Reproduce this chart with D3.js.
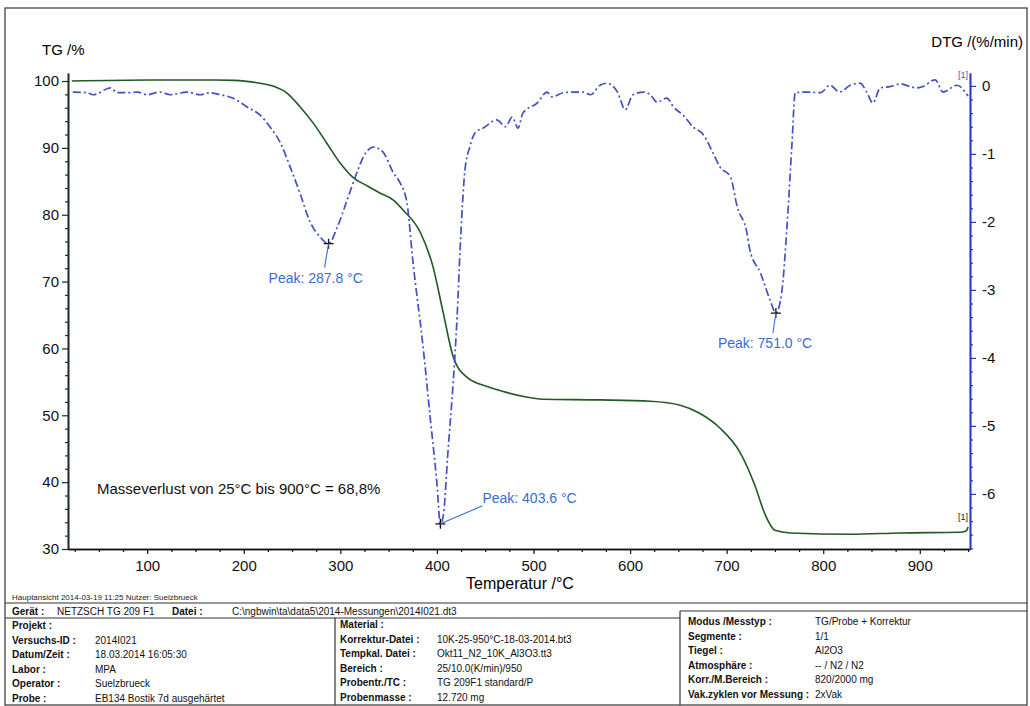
<!DOCTYPE html>
<html>
<head>
<meta charset="utf-8">
<script src="https://cdn.jsdelivr.net/npm/d3@7"></script>
<style>
  body { margin: 0; background: #fff; }
  svg { font-family: "Liberation Sans", Arial, sans-serif; }
</style>
</head>
<body>
<svg id="chart" width="1030" height="706"></svg>
<script>
// TG curve (mass %)
var tgTemp  = [22, 103, 170, 190, 203, 217, 231, 245, 258, 272, 286, 300, 313, 328, 341, 355, 365, 383, 396, 406, 417, 431, 452, 470, 490, 510, 569, 621, 652, 672, 693, 714, 729, 740, 750, 766, 828, 880, 941, 948, 950];
var tgValue = [100.0, 100.15, 100.15, 100.1, 99.95, 99.66, 99.2, 98.16, 96.2, 93.7, 90.7, 87.7, 85.6, 84.3, 83.25, 82.2, 80.7, 77.3, 72.2, 65.7, 58.7, 55.7, 54.3, 53.5, 52.8, 52.4, 52.3, 52.1, 51.5, 50.3, 48.1, 44.4, 39.6, 35.1, 32.8, 32.4, 32.2, 32.4, 32.5, 32.7, 33.3];

// DTG curve (%/min)
var dtgTemp  = [23, 38, 44, 62, 69, 79, 90, 100, 113, 124, 141, 155, 165, 176, 189, 203.5, 217, 227, 238, 248, 258, 269, 279, 287.8, 297, 307, 317, 324, 334, 344, 355, 362, 369, 375, 386, 393, 400, 403.6, 406.4, 411.6, 416.8, 420.9, 424, 429, 434, 440, 448, 462, 471, 478, 484, 489, 504, 514, 519, 531, 541, 551, 559, 569, 576, 587, 595, 603, 614, 621, 628, 638, 645, 655, 665, 676, 686, 693, 704, 711, 721, 724, 735, 745, 751, 757, 762.5, 767.7, 771, 783, 797, 807, 817, 828, 838, 845, 851.5, 859, 869, 880, 890, 897, 903, 916, 924, 938.5, 947, 950];
var dtgValue = [-0.09, -0.10, -0.13, -0.03, -0.10, -0.10, -0.09, -0.13, -0.09, -0.13, -0.09, -0.13, -0.10, -0.13, -0.18, -0.31, -0.43, -0.60, -0.84, -1.19, -1.57, -2.01, -2.22, -2.32, -2.07, -1.68, -1.28, -1.04, -0.90, -0.97, -1.28, -1.43, -1.72, -2.56, -3.88, -4.87, -5.84, -6.44, -6.34, -5.35, -4.37, -3.40, -2.41, -1.24, -0.90, -0.68, -0.62, -0.50, -0.60, -0.46, -0.62, -0.40, -0.25, -0.09, -0.16, -0.10, -0.09, -0.09, -0.13, 0.01, 0.04, -0.09, -0.35, -0.13, -0.09, -0.13, -0.24, -0.18, -0.31, -0.43, -0.60, -0.72, -0.99, -1.19, -1.34, -1.78, -2.16, -2.41, -2.75, -3.15, -3.34, -3.04, -2.07, -0.84, -0.10, -0.09, -0.10, 0.01, -0.09, 0.01, 0.04, -0.09, -0.25, -0.03, -0.01, 0.03, -0.01, -0.03, -0.01, 0.09, -0.09, 0.01, -0.09, -0.15];

// peak annotations
var peakTemp  = [287.8, 403.6, 751.0];
var peakValue = [-2.32, -6.44, -3.34];
var peakLabel = ["Peak: 287.8 °C", "Peak: 403.6 °C", "Peak: 751.0 °C"];

// tick labels
var xTicks   = [100, 200, 300, 400, 500, 600, 700, 800, 900];
var tgTicks  = [30, 40, 50, 60, 70, 80, 90, 100];
var dtgTicks = [-6, -5, -4, -3, -2, -1, 0];

// info table below the plot
var leftLabels  = ["Projekt :", "Versuchs-ID :", "Datum/Zeit :", "Labor :", "Operator :", "Probe :"];
var leftValues  = ["", "2014I021", "18.03.2014 16:05:30", "MPA", "Suelzbrueck", "EB134 Bostik 7d ausgehärtet"];
var midLabels   = ["Material :", "Korrektur-Datei :", "Tempkal. Datei :", "Bereich :", "Probentr./TC :", "Probenmasse :"];
var midValues   = ["", "10K-25-950°C-18-03-2014.bt3", "Okt11_N2_10K_Al3O3.tt3", "25/10.0(K/min)/950", "TG 209F1 standard/P", "12.720 mg"];
var rightLabels = ["Modus /Messtyp :", "Segmente :", "Tiegel :", "Atmosphäre :", "Korr./M.Bereich :", "Vak.zyklen vor Messung :"];
var rightValues = ["TG/Probe + Korrektur", "1/1", "Al2O3", "-- / N2 / N2", "820/2000 mg", "2xVak"];

var tgColor = "#1f5a22", dtgColor = "#4250c4", peakColor = "#3a6ad6";

var svg = d3.select("#chart");

var x = d3.scaleLinear().domain([18, 952]).range([68, 970]);
var yTG = d3.scaleLinear().domain([30, 101.2]).range([549, 73]);
var yDTG = d3.scaleLinear().domain([-6.81, 0.19]).range([549, 73]);
var plain = d => String(d);

// page frame
svg.append("rect").attr("x", 5).attr("y", 8).attr("width", 1022).attr("height", 697)
  .attr("fill", "none").attr("stroke", "#333").attr("stroke-width", 1.2);

// axes
var gx = svg.append("g").attr("transform", "translate(0,549)")
  .call(d3.axisBottom(x).tickValues(xTicks).tickSize(5).tickSizeOuter(0).tickFormat(plain));
svg.append("g").attr("transform", "translate(0,549)")
  .call(d3.axisBottom(x).tickValues(d3.range(25, 951, 25).filter(d => d % 100 != 0)).tickSize(3).tickSizeOuter(0).tickFormat(""));

var gl = svg.append("g").attr("transform", "translate(68,0)")
  .call(d3.axisLeft(yTG).tickValues(tgTicks).tickSize(6).tickSizeOuter(0).tickFormat(plain));
var glm = svg.append("g").attr("transform", "translate(68,0)")
  .call(d3.axisLeft(yTG).tickValues(d3.range(32, 101, 2).filter(d => d % 10 != 0)).tickSize(3).tickSizeOuter(0).tickFormat(""));

var gr = svg.append("g").attr("transform", "translate(970,0)")
  .call(d3.axisRight(yDTG).tickValues(dtgTicks).tickSize(6).tickSizeOuter(0).tickFormat(plain));
var grm = svg.append("g").attr("transform", "translate(970,0)")
  .call(d3.axisRight(yDTG).tickValues(d3.range(-68, 2, 2).map(d => d / 10).filter(d => Math.abs(d - Math.round(d)) > 0.01)).tickSize(3).tickSizeOuter(0).tickFormat(""));

svg.selectAll(".domain").attr("stroke-width", 1.6).attr("stroke", "#111");
svg.selectAll(".tick line").attr("stroke-width", 1.2).attr("stroke", "#111");
gx.selectAll("text").attr("font-size", 15).attr("fill", "#111").attr("dy", "0.95em");
gl.selectAll("text").attr("font-size", 15).attr("fill", "#111").attr("x", -9);
gr.selectAll("text").attr("font-size", 15).attr("fill", "#111").attr("x", 12);
gl.selectAll("path, line").attr("stroke", "#1c2e1c");
glm.selectAll("path, line").attr("stroke", "#1c2e1c");
gr.selectAll("path, line").attr("stroke", "#2436c8");
grm.selectAll("path, line").attr("stroke", "#2436c8");

// axis titles
svg.append("text").attr("x", 42).attr("y", 55).attr("font-size", 15).text("TG /%");
svg.append("text").attr("x", 1023).attr("y", 47).attr("font-size", 15).attr("text-anchor", "end").text("DTG /(%/min)");
svg.append("text").attr("x", 520).attr("y", 589).attr("font-size", 16).attr("text-anchor", "middle").text("Temperatur /°C");

// curves
var tgLine = d3.line().x((d, i) => x(tgTemp[i])).y(d => yTG(d)).curve(d3.curveMonotoneX);
svg.append("path").attr("d", tgLine(tgValue)).attr("fill", "none")
  .attr("stroke", tgColor).attr("stroke-width", 1.6);

var dtgLine = d3.line().x((d, i) => x(dtgTemp[i])).y(d => yDTG(d)).curve(d3.curveMonotoneX);
svg.append("path").attr("d", dtgLine(dtgValue)).attr("fill", "none")
  .attr("stroke", dtgColor).attr("stroke-width", 1.7).attr("stroke-dasharray", "8,3,2,3");

// segment markers
svg.append("text").attr("x", 968).attr("y", yDTG(0.12)).attr("font-size", 9)
  .attr("fill", dtgColor).attr("text-anchor", "end").text("[1]");
svg.append("text").attr("x", 968).attr("y", yTG(34.3)).attr("font-size", 9)
  .attr("fill", "#222").attr("text-anchor", "end").text("[1]");

// peaks
var labelOffset = [[-4, 24, -60, 39], [42, -18, 42, -21], [-3, 20, -58, 35]];
peakTemp.forEach(function(t, i) {
  var px = x(t), py = yDTG(peakValue[i]), o = labelOffset[i];
  svg.append("path").attr("d", "M" + (px - 5) + "," + py + "H" + (px + 5) + "M" + px + "," + (py - 5) + "V" + (py + 5))
    .attr("stroke", "#111").attr("stroke-width", 1.3);
  svg.append("line").attr("x1", px).attr("y1", py).attr("x2", px + o[0]).attr("y2", py + o[1])
    .attr("stroke", peakColor).attr("stroke-width", 1.1);
  svg.append("text").attr("x", px + o[2]).attr("y", py + o[3]).attr("font-size", 14)
    .attr("fill", peakColor).text(peakLabel[i]);
});

svg.append("text").attr("x", 97).attr("y", 494).attr("font-size", 15).attr("fill", "#111")
  .text("Masseverlust von 25°C bis 900°C = 68,8%");

// info table
svg.append("text").attr("x", 12).attr("y", 600).attr("font-size", 8).attr("fill", "#222")
  .text("Hauptansicht   2014-03-19 11:25   Nutzer: Suelzbrueck");
svg.append("line").attr("x1", 5).attr("x2", 1027).attr("y1", 603).attr("y2", 603).attr("stroke", "#333").attr("stroke-width", 1.2);
svg.append("line").attr("x1", 5).attr("x2", 680).attr("y1", 618).attr("y2", 618).attr("stroke", "#333").attr("stroke-width", 1.2);
svg.append("line").attr("x1", 680).attr("x2", 1027).attr("y1", 611).attr("y2", 611).attr("stroke", "#333").attr("stroke-width", 1.2);
svg.append("line").attr("x1", 335).attr("x2", 335).attr("y1", 618).attr("y2", 705).attr("stroke", "#333").attr("stroke-width", 1.2);
svg.append("line").attr("x1", 680).attr("x2", 680).attr("y1", 611).attr("y2", 705).attr("stroke", "#333").attr("stroke-width", 1.2);

var row = svg.append("g").attr("font-size", 10).attr("fill", "#111");
row.append("text").attr("x", 12).attr("y", 615).attr("font-weight", "bold").text("Gerät :");
row.append("text").attr("x", 57).attr("y", 615).text("NETZSCH TG 209  F1");
row.append("text").attr("x", 172).attr("y", 615).attr("font-weight", "bold").text("Datei :");
row.append("text").attr("x", 232).attr("y", 615).text("C:\\ngbwin\\ta\\data5\\2014-Messungen\\2014I021.dt3");

function column(labels, values, lx, vx, y0) {
  var g = svg.append("g").attr("font-size", 10).attr("fill", "#111");
  g.selectAll(".lab").data(labels).enter().append("text")
    .attr("x", lx).attr("y", (d, i) => y0 + i * 14.6).attr("font-weight", "bold").text(d => d);
  g.selectAll(".val").data(values).enter().append("text")
    .attr("x", vx).attr("y", (d, i) => y0 + i * 14.6).text(d => d);
}
column(leftLabels, leftValues, 12, 95, 629);
column(midLabels, midValues, 340, 437, 628);
column(rightLabels, rightValues, 688, 815, 625);
</script>
</body>
</html>
